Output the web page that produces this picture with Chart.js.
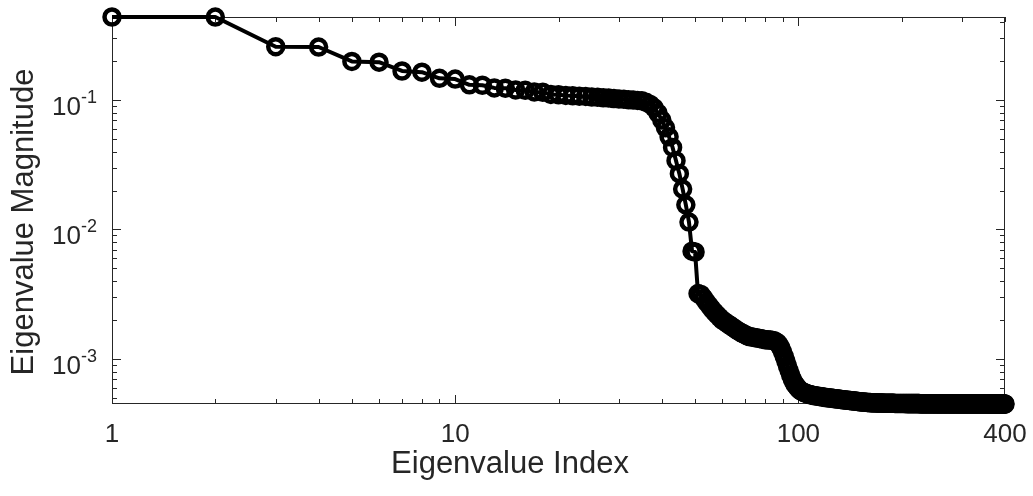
<!DOCTYPE html>
<html>
<head>
<meta charset="utf-8">
<script src="https://cdn.jsdelivr.net/npm/chart.js@4.4.1/dist/chart.umd.min.js"></script>
<style>
  html, body { margin: 0; padding: 0; background: #fff; }
  #wrap { width: 1033px; height: 496px; }
</style>
</head>
<body>
<div id="wrap"><canvas id="eigChart" width="1033" height="496"></canvas></div>
<script>
// Eigenvalue magnitudes (index 1..400)
const magnitudes = [
    0.4375, 0.4370, 0.2580, 0.2565, 0.1985, 0.1960, 0.1675, 0.1640, 0.1470, 0.1450,
    0.1310, 0.1300, 0.1240, 0.1235, 0.1195, 0.1188, 0.1155, 0.1148, 0.1105, 0.1100,
    0.1085, 0.1080, 0.1070, 0.1065, 0.1055, 0.1050, 0.1040, 0.1035, 0.1025, 0.1020,
    0.1012, 0.1005, 0.0998, 0.0992, 0.0985, 0.0960, 0.0925, 0.0870, 0.0790, 0.0700,
    0.0610, 0.0520, 0.0430, 0.0340, 0.0270, 0.0205, 0.0155, 0.0114, 0.0068, 0.0067,
    0.00320, 0.00315, 0.00295, 0.00275, 0.00258, 0.00243, 0.00230, 0.00219, 0.00209, 0.00200,
    0.00194, 0.00188, 0.00183, 0.00178, 0.00173, 0.00168, 0.00164, 0.00160, 0.00157, 0.00154,
    0.00151, 0.00149, 0.00148, 0.00147, 0.00146, 0.00145, 0.00144, 0.00143, 0.00142, 0.00141,
    0.00141, 0.00140, 0.00140, 0.00139, 0.00138, 0.00136, 0.00133, 0.00128, 0.00121, 0.00113,
    0.00104, 0.00096, 0.00088, 0.00081, 0.00075, 0.00070, 0.00066, 0.00063, 0.00061, 0.00059,
    5.75e-4, 5.65e-4, 5.57e-4, 5.50e-4, 5.44e-4, 5.39e-4, 5.35e-4, 5.31e-4, 5.28e-4, 5.25e-4,
    5.22e-4, 5.20e-4, 5.18e-4, 5.16e-4, 5.14e-4, 5.12e-4, 5.10e-4, 5.08e-4, 5.06e-4, 5.04e-4,
    5.03e-4, 5.02e-4, 5.00e-4, 4.99e-4, 4.98e-4, 4.97e-4, 4.95e-4, 4.94e-4, 4.92e-4, 4.91e-4,
    4.90e-4, 4.89e-4, 4.87e-4, 4.86e-4, 4.85e-4, 4.84e-4, 4.83e-4, 4.81e-4, 4.80e-4, 4.79e-4,
    4.78e-4, 4.77e-4, 4.76e-4, 4.75e-4, 4.74e-4, 4.73e-4, 4.72e-4, 4.71e-4, 4.70e-4, 4.69e-4,
    4.68e-4, 4.67e-4, 4.66e-4, 4.66e-4, 4.65e-4, 4.64e-4, 4.63e-4, 4.63e-4, 4.62e-4, 4.61e-4,
    4.61e-4, 4.61e-4, 4.60e-4, 4.60e-4, 4.60e-4, 4.59e-4, 4.59e-4, 4.59e-4, 4.58e-4, 4.58e-4, 4.58e-4, 4.58e-4, 4.57e-4, 4.57e-4, 4.57e-4, 4.57e-4, 4.56e-4, 4.56e-4, 4.56e-4, 4.56e-4,
    4.55e-4, 4.55e-4, 4.55e-4, 4.55e-4, 4.55e-4, 4.55e-4, 4.55e-4, 4.55e-4, 4.55e-4, 4.55e-4, 4.54e-4, 4.54e-4, 4.54e-4, 4.54e-4, 4.54e-4, 4.54e-4, 4.54e-4, 4.54e-4, 4.54e-4, 4.54e-4,
    4.54e-4, 4.54e-4, 4.54e-4, 4.54e-4, 4.54e-4, 4.53e-4, 4.53e-4, 4.53e-4, 4.53e-4, 4.53e-4, 4.53e-4, 4.53e-4, 4.53e-4, 4.53e-4, 4.53e-4, 4.53e-4, 4.53e-4, 4.53e-4, 4.53e-4, 4.53e-4,
    4.53e-4, 4.53e-4, 4.53e-4, 4.53e-4, 4.53e-4, 4.52e-4, 4.52e-4, 4.52e-4, 4.52e-4, 4.52e-4, 4.52e-4, 4.52e-4, 4.52e-4, 4.52e-4, 4.52e-4, 4.52e-4, 4.52e-4, 4.52e-4, 4.52e-4, 4.52e-4,
    4.52e-4, 4.52e-4, 4.52e-4, 4.52e-4, 4.52e-4, 4.52e-4, 4.52e-4, 4.52e-4, 4.52e-4, 4.52e-4, 4.51e-4, 4.51e-4, 4.51e-4, 4.51e-4, 4.51e-4, 4.51e-4, 4.51e-4, 4.51e-4, 4.51e-4, 4.51e-4,
    4.51e-4, 4.51e-4, 4.51e-4, 4.51e-4, 4.51e-4, 4.51e-4, 4.51e-4, 4.51e-4, 4.51e-4, 4.51e-4, 4.51e-4, 4.51e-4, 4.51e-4, 4.51e-4, 4.51e-4, 4.51e-4, 4.51e-4, 4.51e-4, 4.51e-4, 4.51e-4,
    4.51e-4, 4.51e-4, 4.51e-4, 4.51e-4, 4.51e-4, 4.51e-4, 4.51e-4, 4.51e-4, 4.51e-4, 4.51e-4, 4.50e-4, 4.50e-4, 4.50e-4, 4.50e-4, 4.50e-4, 4.50e-4, 4.50e-4, 4.50e-4, 4.50e-4, 4.50e-4,
    4.50e-4, 4.50e-4, 4.50e-4, 4.50e-4, 4.50e-4, 4.50e-4, 4.50e-4, 4.50e-4, 4.50e-4, 4.50e-4, 4.50e-4, 4.50e-4, 4.50e-4, 4.50e-4, 4.50e-4, 4.50e-4, 4.50e-4, 4.50e-4, 4.50e-4, 4.50e-4,
    4.50e-4, 4.50e-4, 4.50e-4, 4.50e-4, 4.50e-4, 4.50e-4, 4.50e-4, 4.50e-4, 4.50e-4, 4.50e-4, 4.50e-4, 4.50e-4, 4.50e-4, 4.50e-4, 4.50e-4, 4.50e-4, 4.50e-4, 4.50e-4, 4.50e-4, 4.50e-4,
    4.50e-4, 4.50e-4, 4.50e-4, 4.50e-4, 4.50e-4, 4.50e-4, 4.50e-4, 4.50e-4, 4.50e-4, 4.50e-4, 4.50e-4, 4.50e-4, 4.50e-4, 4.50e-4, 4.50e-4, 4.50e-4, 4.50e-4, 4.50e-4, 4.50e-4, 4.50e-4,
    4.49e-4, 4.49e-4, 4.49e-4, 4.49e-4, 4.49e-4, 4.49e-4, 4.49e-4, 4.49e-4, 4.49e-4, 4.49e-4, 4.49e-4, 4.49e-4, 4.49e-4, 4.49e-4, 4.49e-4, 4.49e-4, 4.49e-4, 4.49e-4, 4.49e-4, 4.49e-4,
    4.49e-4, 4.49e-4, 4.49e-4, 4.49e-4, 4.49e-4, 4.49e-4, 4.49e-4, 4.49e-4, 4.49e-4, 4.49e-4, 4.49e-4, 4.49e-4, 4.49e-4, 4.49e-4, 4.49e-4, 4.49e-4, 4.49e-4, 4.49e-4, 4.49e-4, 4.49e-4
];
const indices = magnitudes.map((v, k) => k + 1);

const xTickValues = [1, 10, 100, 400];
const yTickValues = [1e-3, 1e-2, 1e-1];
const yTickExponents = ['-3', '-2', '-1'];
const xRange = [1, 400];
const yRange = [4.49e-4, 0.4375];
const xTitle = 'Eigenvalue Index';
const yTitle = 'Eigenvalue Magnitude';

const axisColor = '#262626';
const fontFamily = '"Liberation Sans", Arial, sans-serif';
const tickFont = '26px ' + fontFamily;
const expFont = '18px ' + fontFamily;
const titleFont = '31px ' + fontFamily;

// MATLAB-ish box with inward ticks on all four sides, 10^n labels and axis titles
const boxPlugin = {
    id: 'matlabBox',
    beforeDatasetsDraw(chart) {
        const { ctx, chartArea: a, scales: { x, y } } = chart;
        ctx.save();
        ctx.strokeStyle = axisColor;
        ctx.lineWidth = 1;
        ctx.strokeRect(a.left + 0.5, a.top + 0.5, a.right - a.left - 1, a.bottom - a.top - 1);

        const line = (x1, y1, x2, y2) => {
            ctx.beginPath();
            ctx.moveTo(x1, y1);
            ctx.lineTo(x2, y2);
            ctx.stroke();
        };
        for (let d = 1; d <= 100; d *= 10) {
            for (let m = 1; m <= 9; m++) {
                const v = d * m;
                if (v < xRange[0] || v > xRange[1]) continue;
                const px = Math.round(x.getPixelForValue(v)) + 0.5;
                const len = m === 1 ? 9 : 5;
                line(px, a.bottom, px, a.bottom - len);
                line(px, a.top, px, a.top + len);
            }
        }
        for (let d = 1e-4; d <= 0.1; d *= 10) {
            for (let m = 1; m <= 9; m++) {
                const v = d * m;
                if (v < yRange[0] || v > yRange[1]) continue;
                const py = Math.round(y.getPixelForValue(v)) + 0.5;
                const len = m === 1 ? 9 : 5;
                line(a.left, py, a.left + len, py);
                line(a.right, py, a.right - len, py);
            }
        }

        // y tick labels with superscript exponents
        ctx.fillStyle = axisColor;
        ctx.textBaseline = 'alphabetic';
        yTickValues.forEach((v, k) => {
            const py = y.getPixelForValue(v);
            const rightEdge = a.left - 15;
            ctx.font = expFont;
            const expW = ctx.measureText(yTickExponents[k]).width;
            ctx.textAlign = 'left';
            ctx.fillText(yTickExponents[k], rightEdge - expW, py + 3);
            ctx.font = tickFont;
            ctx.textAlign = 'right';
            ctx.fillText('10', rightEdge - expW, py + 15);
        });

        // axis titles
        ctx.font = titleFont;
        ctx.textAlign = 'center';
        ctx.textBaseline = 'middle';
        ctx.fillText(xTitle, 510, 464);
        ctx.translate(24, 222);
        ctx.rotate(-Math.PI / 2);
        ctx.fillText(yTitle, 0, 0);
        ctx.restore();
    }
};

new Chart(document.getElementById('eigChart'), {
    type: 'line',
    data: {
        datasets: [{
            data: indices.map((idx, k) => ({ x: idx, y: magnitudes[k] })),
            borderColor: '#000',
            borderWidth: 4,
            borderJoinStyle: 'round',
            tension: 0,
            pointStyle: 'circle',
            pointRadius: 7.5,
            pointBorderWidth: 4.5,
            pointBorderColor: '#000',
            pointBackgroundColor: 'rgba(0,0,0,0)',
            clip: false
        }]
    },
    options: {
        responsive: false,
        animation: false,
        layout: { padding: { top: 17, right: 28, left: 0, bottom: 0 } },
        plugins: { legend: { display: false }, tooltip: { enabled: false } },
        scales: {
            x: {
                type: 'logarithmic',
                min: xRange[0],
                max: xRange[1],
                afterBuildTicks: s => { s.ticks = xTickValues.map(v => ({ value: v })); },
                afterFit: s => { s.height = 92; s.paddingLeft = 0; s.paddingRight = 0; },
                grid: { display: false, drawTicks: false },
                border: { display: false },
                ticks: {
                    color: axisColor,
                    font: { family: fontFamily, size: 26 },
                    padding: 15,
                    maxRotation: 0,
                    autoSkip: false,
                    callback: v => String(v)
                }
            },
            y: {
                type: 'logarithmic',
                min: yRange[0],
                max: yRange[1],
                afterBuildTicks: s => { s.ticks = yTickValues.map(v => ({ value: v })); },
                afterFit: s => { s.width = 112; s.paddingTop = 0; s.paddingBottom = 0; },
                grid: { display: false, drawTicks: false },
                border: { display: false },
                ticks: { display: false }
            }
        }
    },
    plugins: [boxPlugin]
});
</script>
</body>
</html>
